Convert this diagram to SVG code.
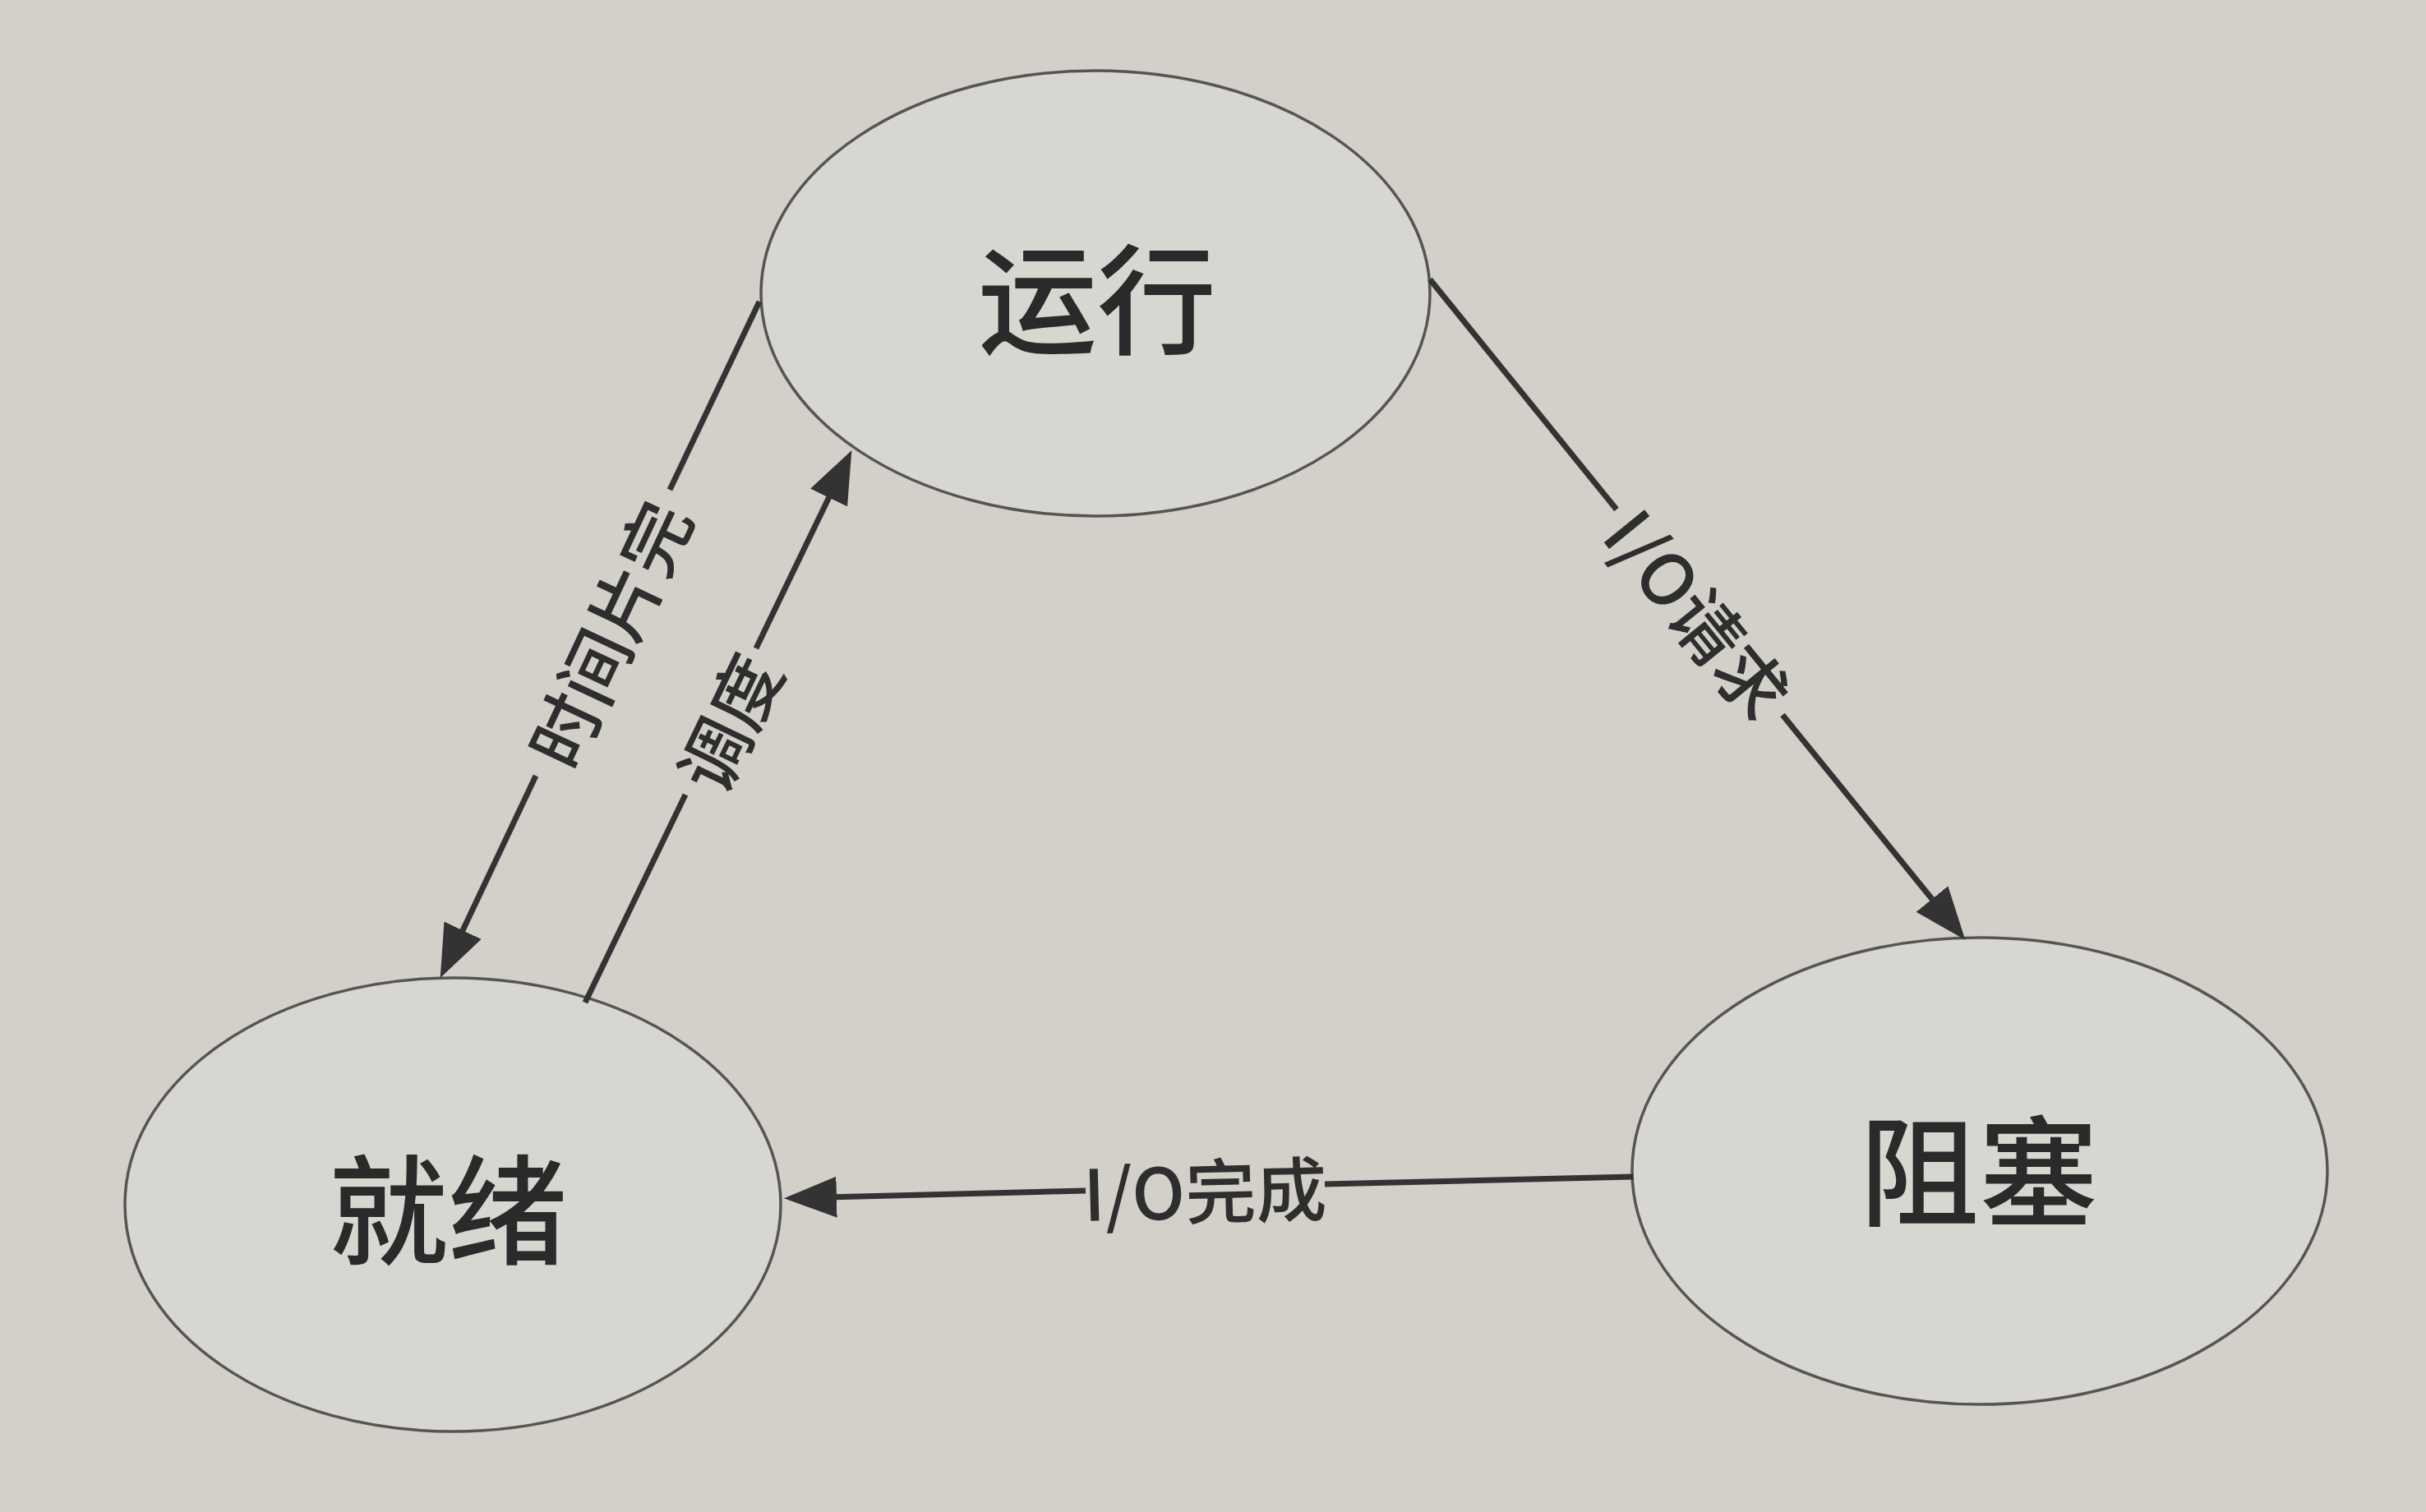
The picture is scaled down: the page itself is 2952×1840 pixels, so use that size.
<svg xmlns="http://www.w3.org/2000/svg" width="2952" height="1840" viewBox="0 0 2952 1840">
  <style>
    .bg { fill: #d3d0ca; }
    .node ellipse { fill: #d8d6d1; stroke: #555; stroke-width: 3.5; }
    .node text { font-family: "Noto Sans CJK SC", "Noto Sans", sans-serif; font-size: 145px; font-weight: 500; fill: #2a2a2a; text-anchor: middle; dominant-baseline: central; }
    .edge { fill: none; stroke: #333; stroke-width: 7; }
    .label { font-family: "Noto Sans CJK SC", "Noto Sans", sans-serif; font-size: 86px; font-weight: 500; fill: #2e2e2e; text-anchor: middle; dominant-baseline: central; }
  </style>
  <defs>
    <marker id="arrow" markerUnits="userSpaceOnUse" markerWidth="66" markerHeight="52" refX="54" refY="25" orient="auto">
      <path d="M0,0 L64,25 L0,50 z" fill="#333"/>
    </marker>
  </defs>
  <rect class="bg" x="0" y="0" width="2952" height="1840"/>

  <g id="node-running" class="node">
    <ellipse cx="1333" cy="357" rx="407" ry="271"/>
    <text x="1335" y="357">运行</text>
  </g>
  <g id="node-ready" class="node">
    <ellipse cx="551" cy="1466" rx="399" ry="276"/>
    <text x="545" y="1465">就绪</text>
  </g>
  <g id="node-blocked" class="node">
    <ellipse cx="2409" cy="1425" rx="423" ry="284"/>
    <text x="2408" y="1418">阻塞</text>
  </g>

  <g id="connectors">
    <!-- 时间片完: 运行 -> 就绪 -->
    <g id="edge-timeslice">
      <line class="edge" x1="924" y1="367" x2="815" y2="596"/>
      <line class="edge" x1="652" y1="944" x2="540" y2="1181" marker-end="url(#arrow)"/>
      <text class="label" transform="translate(738,770) rotate(-64.9)">时间片完</text>
    </g>
    <!-- 调度: 就绪 -> 运行 -->
    <g id="edge-dispatch">
      <line class="edge" x1="712" y1="1220" x2="834" y2="967"/>
      <line class="edge" x1="920" y1="789" x2="1032" y2="557" marker-end="url(#arrow)"/>
      <text class="label" transform="translate(884,878) rotate(-64.3)">调度</text>
    </g>
    <!-- I/O请求: 运行 -> 阻塞 -->
    <g id="edge-io-request">
      <line class="edge" x1="1740" y1="340" x2="1967" y2="620"/>
      <line class="edge" x1="2169" y1="870" x2="2385" y2="1136" marker-end="url(#arrow)"/>
      <text class="label" transform="translate(2069,745) rotate(50.9)">I/O请求</text>
    </g>
    <!-- I/O完成: 阻塞 -> 就绪 -->
    <g id="edge-io-done">
      <line class="edge" x1="1987" y1="1432" x2="1612" y2="1441"/>
      <line class="edge" x1="1321" y1="1449" x2="964" y2="1458" marker-end="url(#arrow)"/>
      <text class="label" transform="translate(1466,1445) rotate(-1.4)">I/O完成</text>
    </g>
  </g>
</svg>
